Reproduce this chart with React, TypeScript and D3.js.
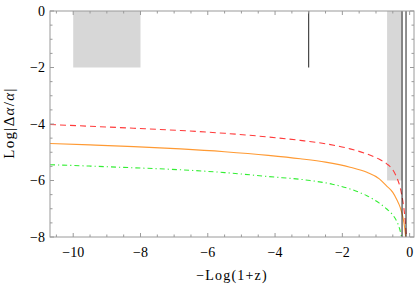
import React from "react";
import * as d3 from "d3";

// curves: [-Log(1+z), Log|Δα/α|]
const redDashed: [number, number][] = [
  [-10.69, -4.02], [-9.5, -4.08], [-8.2, -4.15], [-6.81, -4.23], [-5.5, -4.33],
  [-4.2, -4.46], [-3.25, -4.58], [-2.5, -4.7], [-1.77, -4.88], [-1.27, -5.06],
  [-0.9, -5.25], [-0.68, -5.41], [-0.5, -5.62], [-0.38, -5.9], [-0.28, -6.25],
  [-0.2, -6.75], [-0.14, -7.31], [-0.09, -8.1],
];
const orangeSolid: [number, number][] = [
  [-10.69, -4.69], [-9.5, -4.74], [-8.2, -4.8], [-6.81, -4.88], [-5.5, -4.98],
  [-4.2, -5.11], [-3.25, -5.23], [-2.5, -5.35], [-1.77, -5.53], [-1.27, -5.71],
  [-0.9, -5.94], [-0.68, -6.2], [-0.5, -6.42], [-0.38, -6.68], [-0.28, -6.95],
  [-0.2, -7.3], [-0.15, -7.65], [-0.11, -8.1],
];
const greenDashDot: [number, number][] = [
  [-10.69, -5.44], [-9.5, -5.49], [-8.2, -5.55], [-6.81, -5.62], [-5.5, -5.72],
  [-4.2, -5.86], [-2.96, -6.0], [-2.3, -6.13], [-1.77, -6.3], [-1.27, -6.54],
  [-0.9, -6.8], [-0.68, -7.01], [-0.5, -7.22], [-0.38, -7.45], [-0.3, -7.7],
  [-0.22, -8.1],
];

// shaded exclusion regions: [x0, x1, yTop, yBottom]
const boxes: [number, number, number, number][] = [
  [-10, -8, 0, -2],
  [-0.67, -0.225, 0, -6],
];
// black bounds: [x, yTop, yBottom]
const bounds: [number, number, number][] = [
  [-3, 0, -2],
  [-0.225, 0, -8],
  [-0.107, 0, -8],
];

const xMajor = [-10, -8, -6, -4, -2, 0];
const yMajor = [0, -2, -4, -6, -8];

const W = 415;
const H = 286;
const left = 50;
const right = 414;
const top = 11;
const bottom = 237;

export default function App() {
  const x = d3.scaleLinear().domain([-10.69, 0.13]).range([left, right]);
  const y = d3.scaleLinear().domain([-8, 0]).range([bottom, top]);

  const line = d3
    .line<[number, number]>()
    .x((d) => x(d[0]))
    .y((d) => y(d[1]))
    .curve(d3.curveMonotoneX);

  const xMinor = d3.range(-10.5, 0.01, 0.5).filter((v) => !xMajor.includes(v));
  const yMinor = d3.range(-7.5, 0, 0.5).filter((v) => !yMajor.includes(v));

  const frame = "#9a9a9a";
  const font = "'Liberation Serif', 'Times New Roman', serif";

  return (
    <svg
      width={W}
      height={H}
      style={{ position: "absolute", left: 0, top: 0, background: "#fff" }}
      fontFamily={font}
    >
      <defs>
        <clipPath id="plot">
          <rect x={left} y={top} width={right - left} height={bottom - top} />
        </clipPath>
      </defs>

      {boxes.map((b, i) => (
        <rect
          key={i}
          x={x(b[0])}
          y={y(b[2])}
          width={x(b[1]) - x(b[0])}
          height={y(b[3]) - y(b[2])}
          fill="#d7d7d7"
        />
      ))}

      <g clipPath="url(#plot)" fill="none">
        <path d={line(greenDashDot) || ""} stroke="#33ee33" strokeWidth={1.1} strokeDasharray="5,3,1.2,3" />
        <path d={line(orangeSolid) || ""} stroke="#ff9a33" strokeWidth={1.1} />
        <path d={line(redDashed) || ""} stroke="#ff3b3b" strokeWidth={1.1} strokeDasharray="6,4" />
      </g>

      {bounds.map((b, i) => (
        <line
          key={i}
          x1={x(b[0])}
          x2={x(b[0])}
          y1={y(b[1])}
          y2={y(b[2])}
          stroke="#222"
          strokeWidth={1}
        />
      ))}

      {/* frame */}
      <rect x={left} y={top} width={right - left} height={bottom - top} fill="none" stroke={frame} strokeWidth={1} />

      {/* ticks */}
      <g stroke={frame} strokeWidth={1}>
        {xMajor.map((v) => (
          <g key={"xM" + v}>
            <line x1={x(v)} x2={x(v)} y1={bottom} y2={bottom - 4} />
            <line x1={x(v)} x2={x(v)} y1={top} y2={top + 4} />
          </g>
        ))}
        {xMinor.map((v) => (
          <g key={"xm" + v}>
            <line x1={x(v)} x2={x(v)} y1={bottom} y2={bottom - 2.5} />
            <line x1={x(v)} x2={x(v)} y1={top} y2={top + 2.5} />
          </g>
        ))}
        {yMajor.map((v) => (
          <g key={"yM" + v}>
            <line x1={left} x2={left + 4} y1={y(v)} y2={y(v)} />
            <line x1={right} x2={right - 4} y1={y(v)} y2={y(v)} />
          </g>
        ))}
        {yMinor.map((v) => (
          <g key={"ym" + v}>
            <line x1={left} x2={left + 2.5} y1={y(v)} y2={y(v)} />
            <line x1={right} x2={right - 2.5} y1={y(v)} y2={y(v)} />
          </g>
        ))}
      </g>

      {/* tick labels */}
      <g fontSize={14} fill="#000">
        {xMajor.map((v) => (
          <text key={"xl" + v} x={x(v)} y={257} textAnchor="middle">
            {v < 0 ? "\u2212" + Math.abs(v) : String(v)}
          </text>
        ))}
        {yMajor.map((v) => (
          <text key={"yl" + v} x={45} y={y(v)} dy="0.35em" textAnchor="end">
            {v < 0 ? "\u2212" + Math.abs(v) : String(v)}
          </text>
        ))}
      </g>

      <text x={232} y={280} fontSize={14} letterSpacing={1.2} textAnchor="middle">
        {"\u2212Log(1+z)"}
      </text>
      <text transform="translate(14,123) rotate(-90)" fontSize={15} letterSpacing={1.3} textAnchor="middle">
        Log|Δ<tspan fontStyle="italic">α</tspan>/<tspan fontStyle="italic">α</tspan>|
      </text>
    </svg>
  );
}
